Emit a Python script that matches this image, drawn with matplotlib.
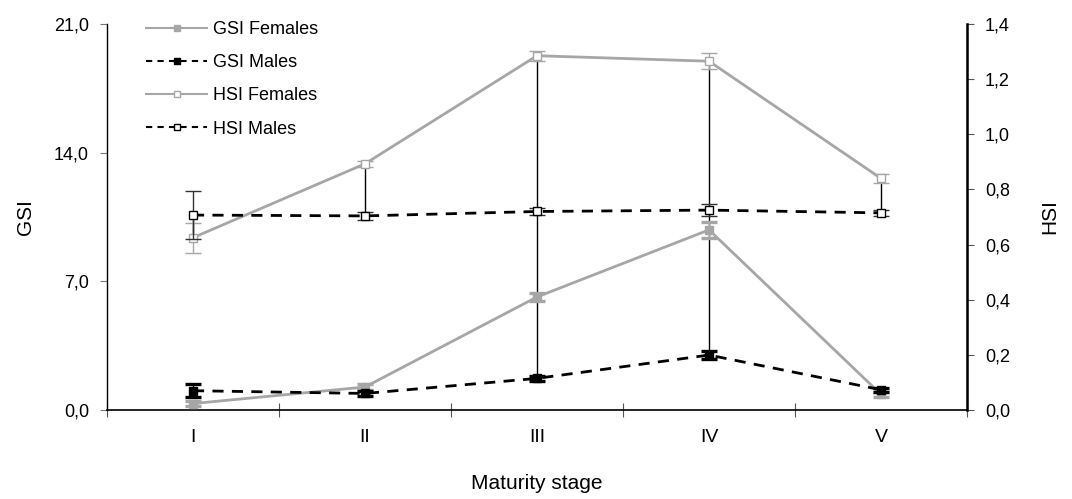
import matplotlib.pyplot as plt
from matplotlib.lines import Line2D
import numpy as np

plt.rcParams['font.family'] = ['Liberation Sans', 'DejaVu Sans']

# maturity stages
stages = ['I', 'II', 'III', 'IV', 'V']

# gonadosomatic index (left axis)
gsi_f = [0.35, 1.25, 6.15, 9.8, 0.85]
gsi_f_err = [0.15, 0.15, 0.2, 0.45, 0.15]
gsi_m = [1.05, 0.9, 1.72, 2.99, 1.1]
gsi_m_err = [0.35, 0.12, 0.15, 0.2, 0.1]

# hepatosomatic index (right axis)
hsi_f = [0.625, 0.893, 1.285, 1.265, 0.84]
hsi_f_err = [0.055, 0.011, 0.018, 0.03, 0.015]
hsi_m = [0.707, 0.704, 0.72, 0.725, 0.715]
hsi_m_err = [0.087, 0.015, 0.013, 0.022, 0.012]

# where each vertical connector ends, going down from HSI females
link_end = ['hsi_m', 'hsi_m', 'gsi_m', 'gsi_m', 'hsi_m']

gray = '#a6a6a6'
dash = (0, (4, 3))
x = np.arange(1, len(stages) + 1)

fig = plt.figure(figsize=(10.72, 4.99), dpi=100)
ax1 = fig.add_axes([107 / 1072, 1 - 410 / 499, 860 / 1072, 386 / 499])
ax2 = ax1.twinx()

# connectors, drawn in GSI units (21 GSI == 1.4 HSI)
scale = 21 / 1.4
for i in range(len(stages)):
    top = hsi_f[i] * scale
    bot = hsi_m[i] * scale if link_end[i] == 'hsi_m' else gsi_m[i]
    ax1.plot([x[i], x[i]], [top, bot], color='black', lw=1.0, zorder=1)

eb = dict(capsize=6, capthick=2.4, elinewidth=1.0)
ax1.errorbar(x, gsi_f, yerr=gsi_f_err, color=gray, ecolor=gray, lw=2.0,
             marker='s', ms=6, mfc=gray, mec=gray, zorder=3, **eb)
ax1.errorbar(x, gsi_m, yerr=gsi_m_err, color='black', ecolor='black', lw=2.0,
             ls=dash, marker='s', ms=6, mfc='black', mec='black', zorder=4, **eb)
ax2.errorbar(x, hsi_f, yerr=hsi_f_err, color=gray, ecolor=gray, lw=2.0,
             marker='s', ms=6, mfc='white', mec=gray, mew=1.0, zorder=3, **eb)
ax2.errorbar(x, hsi_m, yerr=hsi_m_err, color='black', ecolor='#333333', lw=2.0,
             ls=dash, marker='s', ms=6, mfc='white', mec='black', mew=1.0, zorder=4, **eb)

ax1.set_xlim(0.5, len(stages) + 0.5)
ax1.set_ylim(0, 21)
ax2.set_ylim(0, 1.4)

ax1.set_yticks([0, 7, 14, 21])
ax1.set_yticklabels(['0,0', '7,0', '14,0', '21,0'], fontsize=13)
hsi_ticks = np.arange(0, 1.41, 0.2)
ax2.set_yticks(hsi_ticks)
ax2.set_yticklabels([f'{t:.1f}'.replace('.', ',') for t in hsi_ticks], fontsize=13)

# category boundaries as ticks, names centred between them
ax1.set_xticks(np.arange(0.5, len(stages) + 1, 1))
ax1.set_xticklabels([])
ax1.set_xticks(x, minor=True)
ax1.set_xticklabels(stages, minor=True, fontsize=14)
ax1.tick_params(axis='x', which='major', direction='inout', length=10, width=0.8, color='#555555')
ax1.tick_params(axis='x', which='minor', length=0, pad=14)
ax1.tick_params(axis='y', direction='out', length=5, width=0.8, color='#777777', pad=8)
ax2.tick_params(axis='y', direction='out', length=5, width=0.8, color='#555555', pad=8)

for ax in (ax1, ax2):
    ax.spines['top'].set_visible(False)
ax1.spines['left'].set_linewidth(1.0)
ax1.spines['bottom'].set_linewidth(1.2)
ax2.spines['right'].set_linewidth(1.8)
ax2.spines['left'].set_visible(False)
ax2.spines['bottom'].set_visible(False)

ax1.set_xlabel('Maturity stage', fontsize=15, labelpad=20)
ax1.set_ylabel('GSI', fontsize=15, labelpad=14)
ax2.set_ylabel('HSI', fontsize=15, labelpad=22)

handles = [
    Line2D([], [], color=gray, lw=1.5, marker='s', ms=5, mfc=gray, mec=gray),
    Line2D([], [], color='black', lw=1.5, ls=(0, (3, 2.5)), marker='s', ms=5,
           mfc='black', mec='black'),
    Line2D([], [], color=gray, lw=1.5, marker='s', ms=5, mfc='white', mec=gray),
    Line2D([], [], color='black', lw=1.5, ls=(0, (3, 2.5)), marker='s', ms=5,
           mfc='white', mec='black'),
]
labels = ['GSI Females', 'GSI Males', 'HSI Females', 'HSI Males']
fig.legend(handles, labels, loc='upper left',
           bbox_to_anchor=(146 / 1072, 1 - 21 / 499), frameon=False,
           fontsize=13, handlelength=3.4, handletextpad=0.3,
           labelspacing=0.9, borderpad=0, borderaxespad=0)

fig.savefig('out.png', dpi=100)
